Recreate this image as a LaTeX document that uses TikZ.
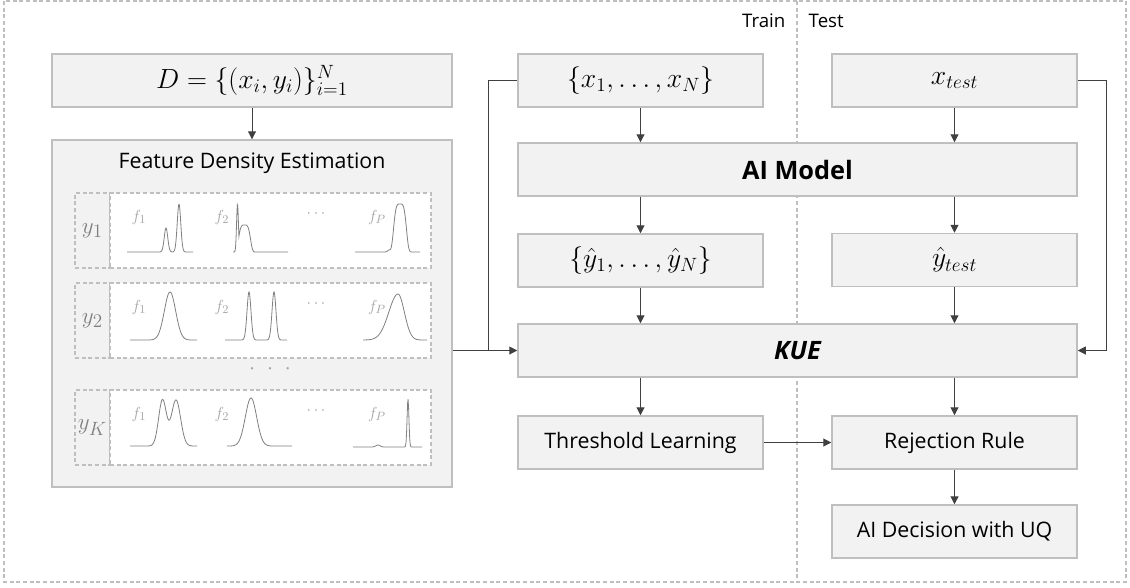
\documentclass[tikz,border=0pt]{standalone}
\usepackage{fontspec}
\setmainfont{Open Sans}
\usetikzlibrary{positioning, arrows.meta, calc}
\definecolor{boxfill}{HTML}{F2F2F2}
\definecolor{boxline}{HTML}{BFBFBF}
\definecolor{linkcolor}{HTML}{404040}
\definecolor{curvecolor}{HTML}{808080}
\definecolor{labelgray}{HTML}{A6A6A6}

\begin{document}
\begin{tikzpicture}[x=0.75pt, y=-0.75pt,
    box/.style={rectangle, draw=boxline, fill=boxfill, line width=1.1pt, minimum width=183.75pt, minimum height=39.75pt, inner sep=0pt, font=\fontsize{16}{19}\selectfont},
    mathbox/.style={box, font=\fontsize{19.5}{22}\selectfont},
    widebox/.style={box, minimum width=419.25pt},
    arrow/.style={-{Triangle[length=6pt, width=6pt]}, line width=0.75pt, linkcolor},
    link/.style={line width=0.75pt, linkcolor},
    dashframe/.style={draw=boxline, dash pattern=on 3pt off 2pt, line width=1.1pt},
    cell/.style={rectangle, dashframe, minimum height=56.25pt, inner sep=0pt},
    curve/.style={curvecolor, line width=0.6pt, samples=140},
    flabel/.style={labelgray, font=\fontsize{13}{15}\selectfont},
    declare function={gs(\t,\m,\w)=exp(-(min(abs((\t-\m)/\w),3))^2);
                      fl(\t,\m,\w)=exp(-(min(abs((\t-\m)/\w),1.7))^4);}
]
    \useasboundingbox (0,0) rectangle (1130,587);

    % === Train / Test frame ===
    \draw[dashframe] (4,1) rectangle (1126,582);
    \draw[dashframe] (797,1) -- (797,582);
    \node[anchor=east, font=\fontsize{14}{16}\selectfont] (train) at (790,21) {Train};
    \node[anchor=west, font=\fontsize{14}{16}\selectfont] (test) at (804,21) {Test};

    % === Data and feature densities ===
    \node[mathbox, minimum width=300pt] (data) at (252,80.5) {$D=\{(x_i,y_i)\}_{i=1}^{N}$};
    \node[box, minimum width=300pt, minimum height=260.25pt] (fde) at (252,313.5) {};
    \node[font=\fontsize{16}{19}\selectfont] (fdetitle) at (252,163) {Feature Density Estimation};

    % one dashed row per class
    \foreach \lab/\top in {1/193, 2/283, K/390} {
        \node[cell, fill=boxfill, minimum width=26.25pt] (cls\lab) at (92.5,\top+37.5) {};
        \node[cell, fill=white, minimum width=240.75pt] (dens\lab) at (270.5,\top+37.5) {};
        \node[curvecolor, font=\fontsize{19}{22}\selectfont] at (cls\lab) {$y_{\lab}$};
        \node[flabel] at (139,\top+24) {$f_1$};
        \node[flabel] at (222,\top+24) {$f_2$};
        \node[flabel] at (316,\top+21) {$\cdots$};
        \node[flabel] at (377,\top+24) {$f_P$};
    }
    \node[labelgray, font=\fontsize{16}{19}\selectfont] (rowdots) at (270,369) {$\cdot\;\cdot\;\cdot$};

    % densities, class 1
    \draw[curve] plot[domain=127:193] (\x, {252-24*gs(\x,166,2.5)-48*gs(\x,179,2.5)});
    \draw[curve] plot[domain=233:288] (\x, {252-max(48*gs(\x,237.5,1.3), 27*fl(\x,244.5,6.5))});
    \draw[curve] plot[domain=355:420] (\x, {252-2*gs(\x,389,2)-48*fl(\x,400,7)});
    % densities, class 2
    \draw[curve] plot[domain=130:197] (\x, {340-48*gs(\x,170,8)});
    \draw[curve] plot[domain=225:287] (\x, {340-48*gs(\x,249,2.8)-48*gs(\x,274,2.8)});
    \draw[curve] plot[domain=363:427] (\x, {340-46*gs(\x,398,ifthenelse(\x<398,13,9))});
    % densities, class K
    \draw[curve] plot[domain=130:197] (\x, {446-46*gs(\x,162.5,5.5)-46*gs(\x,176,6.5)});
    \draw[curve] plot[domain=227:292] (\x, {446-48*gs(\x,251,8)});
    \draw[curve] plot[domain=353:422] (\x, {447-2*gs(\x,378,3)-48*gs(\x,408,1.3)});

    % === Training branch ===
    \node[mathbox] (xset) at (640.5,80.5) {$\{x_1,\ldots,x_N\}$};
    \node[widebox, font=\fontsize{19}{22}\selectfont\bfseries] (model) at (797.5,169.5) {AI Model};
    \node[mathbox] (yset) at (640.5,260.5) {$\{\hat{y}_1,\ldots,\hat{y}_N\}$};
    \node[widebox, font=\fontsize{19}{22}\selectfont\bfseries\itshape] (kue) at (797.5,350.5) {KUE};
    \node[box] (thresh) at (640.5,442.5) {Threshold Learning};

    % === Test branch ===
    \node[mathbox] (xtest) at (954.5,80.5) {$x_{test}$};
    \node[mathbox] (ytest) at (954.5,260) {$\hat{y}_{test}$};
    \node[box] (reject) at (954.5,442.5) {Rejection Rule};
    \node[box] (decision) at (954.5,531.5) {AI Decision with UQ};

    % === Connectors ===
    \draw[arrow] (data) -- (fde);
    \draw[arrow] (xset) -- (xset |- model.north);
    \draw[arrow] (model.south -| yset) -- (yset);
    \draw[arrow] (yset) -- (yset |- kue.north);
    \draw[arrow] (kue.south -| thresh) -- (thresh);
    \draw[arrow] (xtest) -- (xtest |- model.north);
    \draw[arrow] (model.south -| ytest) -- (ytest);
    \draw[arrow] (ytest) -- (ytest |- kue.north);
    \draw[arrow] (kue.south -| reject) -- (reject);
    \draw[arrow] (reject) -- (decision);
    \draw[arrow] (thresh) -- (reject);

    \coordinate (lsplit) at (488,351);
    \coordinate (rsplit) at (1106,80.5);
    \draw[link] (xset.west) -| (lsplit);
    \draw[arrow] (fde.east |- kue.west) -- (kue.west);
    \draw[arrow] (xtest.east) -- (rsplit) |- (kue.east);
\end{tikzpicture}
\end{document}
